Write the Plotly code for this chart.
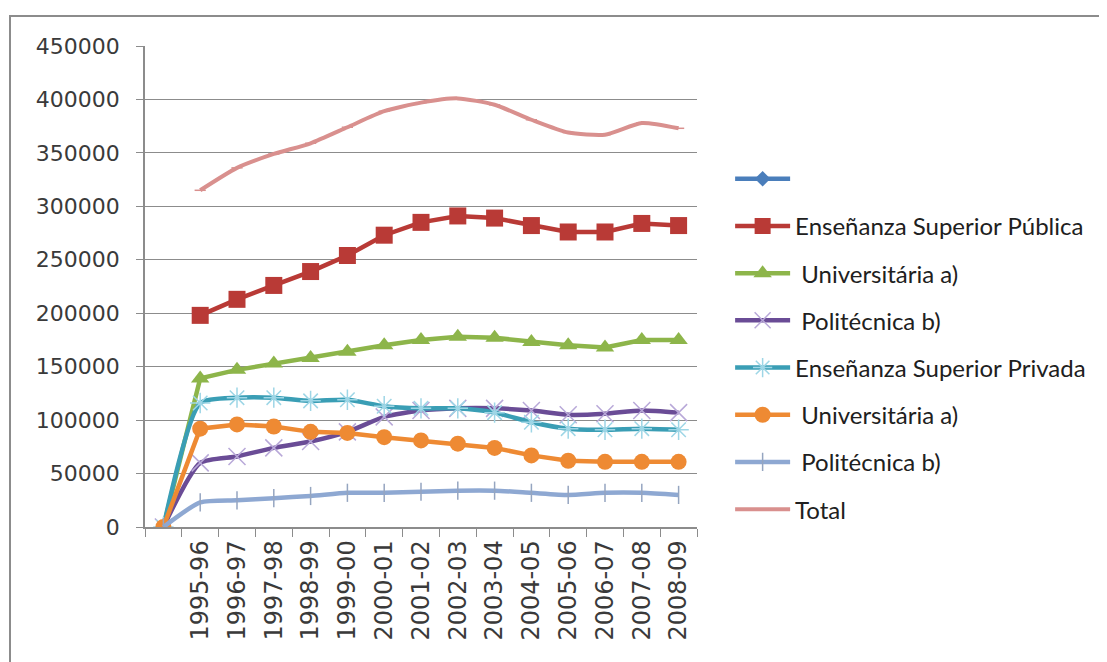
import plotly.graph_objects as go

categories = [" ", "1995-96", "1996-97", "1997-98", "1998-99", "1999-00", "2000-01",
              "2001-02", "2002-03", "2003-04", "2004-05", "2005-06", "2006-07",
              "2007-08", "2008-09"]

serie_vacia = [0] + [None] * 14
publica = [None, 198000, 213000, 226000, 239000, 254000, 273000, 285000, 291000,
           289000, 282000, 276000, 276000, 284000, 282000]
univ_publica = [0, 139000, 147000, 153000, 158000, 164000, 170000, 175000, 178000,
                177000, 173000, 170000, 168000, 175000, 175000]
poli_publica = [0, 60000, 66000, 74000, 80000, 89000, 103000, 109000, 111000,
                111000, 109000, 105000, 106000, 109000, 107000]
privada = [0, 116000, 121000, 121000, 118000, 119000, 113000, 111000, 111000,
           107000, 98000, 92000, 91000, 92000, 91000]
univ_privada = [0, 92000, 96000, 94000, 89000, 88000, 84000, 81000, 78000,
                74000, 67000, 62000, 61000, 61000, 61000]
poli_privada = [0, 23000, 25000, 27000, 29000, 32000, 32000, 33000, 34000,
                34000, 32000, 30000, 32000, 32000, 30000]
total = [None, 315000, 336000, 349000, 359000, 374000, 389000, 397000, 401000,
         395000, 381000, 369000, 367000, 378000, 373000]

names = ["", "Enseñanza Superior Pública", " Universitária a)", " Politécnica b)",
         "Enseñanza Superior Privada", " Universitária a)", " Politécnica b)", "Total"]
y_ticks = [0, 50000, 100000, 150000, 200000, 250000, 300000, 350000, 400000, 450000]

specs = [
    (serie_vacia, "#4A7EBB", "diamond", 12, "#4A7EBB", 0, "linear"),
    (publica, "#B93A36", "square", 17, "#B93A36", 0, "linear"),
    (univ_publica, "#8DB54A", "triangle-up", 16, "#8DB54A", 0, "linear"),
    (poli_publica, "#6A4C96", "x-thin-open", 17, "#B8A8D8", 1.5, "spline"),
    (privada, "#3A9EB5", "asterisk-open", 17, "#9ED6E6", 1.5, "spline"),
    (univ_privada, "#EE8A33", "circle", 16, "#EE8A33", 0, "linear"),
    (poli_privada, "#8EA8D2", "line-ns-open", 13, "#95A5C0", 1.5, "spline"),
    (total, "#D9908E", "line-ew-open", 8, "#D9908E", 1.5, "spline"),
]

fig = go.Figure()
for i, (vals, col, sym, size, mcol, mlw, shape) in enumerate(specs):
    marker = dict(symbol=sym, size=size, color=mcol)
    if mlw:
        marker["line"] = dict(color=mcol, width=mlw)
    fig.add_trace(go.Scatter(
        x=categories, y=vals, name=names[i], mode="lines+markers",
        line=dict(color=col, width=4.5 if i != 7 else 4, shape=shape, smoothing=0.6),
        marker=marker, legendgroup="g%d" % i, connectgaps=False,
    ))

# page body has an 8px margin, so the figure is offset by 8px
L, T, PW, PH = 137, 38, 552, 481
fig.update_layout(
    width=1107, height=662,
    margin=dict(l=L, r=1107 - L - PW, t=T, b=662 - T - PH, autoexpand=False),
    paper_bgcolor="white", plot_bgcolor="white",
    font=dict(family="DejaVu Sans", size=22, color="#3A3A3A"),
    showlegend=True,
    legend=dict(x=1.06, y=0.77, xanchor="left", yanchor="top",
                font=dict(family="Lato", size=24, color="#202020"),
                tracegroupgap=13, itemwidth=55, bgcolor="rgba(0,0,0,0)"),
    shapes=[dict(type="rect", xref="paper", yref="paper",
                 x0=(2 - L) / PW, x1=(1110 - L) / PW,
                 y0=-(662 - T - PH + 10) / PH, y1=(PH + T - 8) / PH,
                 line=dict(color="#8C8C8C", width=2), fillcolor="rgba(0,0,0,0)",
                 layer="below")],
)
fig.update_xaxes(type="category", categoryorder="array", categoryarray=categories,
                 tickangle=-90, showgrid=False, showline=True, linecolor="#8C8C8C",
                 linewidth=1.5, ticks="outside", ticklen=8, tickcolor="#8C8C8C",
                 tickson="boundaries", range=[-0.5, 14.5], ticklabelstandoff=2,
                 tickfont=dict(size=24))
fig.update_yaxes(range=[0, 450000], tickvals=y_ticks, ticktext=[str(v) for v in y_ticks],
                 showgrid=True, gridcolor="#8C8C8C", gridwidth=1, showline=True,
                 linecolor="#8C8C8C", linewidth=1.5, ticks="outside", ticklen=7,
                 tickcolor="#8C8C8C", zeroline=False, ticklabelstandoff=12)

fig.write_html("out.html")
